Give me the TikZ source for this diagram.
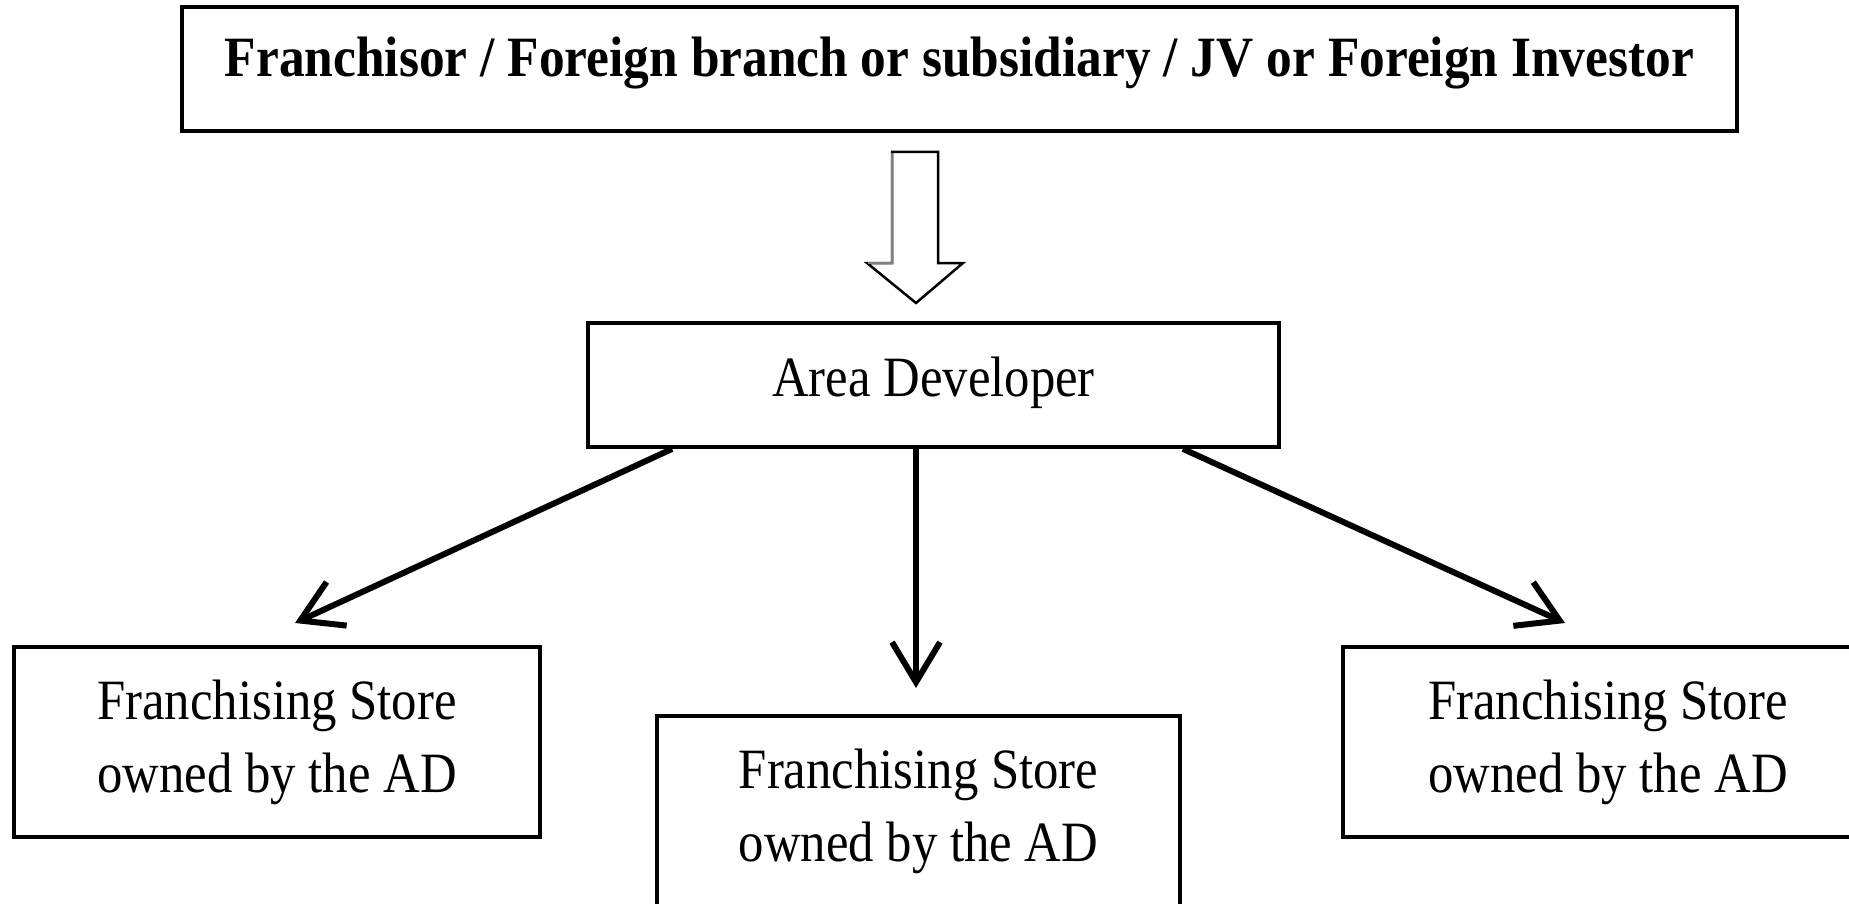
\documentclass[tikz,border=0pt]{standalone}
\usepackage{fontspec}
\setmainfont{Liberation Serif}
\newfontfamily\chartfont[FakeStretch=0.89]{Liberation Serif}
\newfontfamily\titlefont[FakeStretch=0.902]{Liberation Serif}
\usetikzlibrary{arrows.meta}
\begin{document}
\begin{tikzpicture}[x=1pt,y=-1pt,
  box/.style={draw=black,line width=3.8pt,fill=white,inner sep=0pt,align=center,
    font=\chartfont\fontsize{57}{73}\selectfont},
  titlebox/.style={box,font=\titlefont\bfseries\fontsize{57}{73}\selectfont},
  storebox/.style={box,minimum width=526pt,minimum height=190pt},
  conn/.style={line width=6pt,-{Straight Barb[length=40pt,width=48pt]}},
  blockarrow/.style={fill=white,draw=black,line width=2.5pt,line join=miter}]
\useasboundingbox (0,0) rectangle (1849,904);
\clip (0,0) rectangle (1849,904);
\fill[white] (0,0) rectangle (1849,904);

% boxes
\node[titlebox,minimum width=1555pt,minimum height=124pt,text depth=24pt] (top) at (959.5,69)
  {Franchisor / Foreign branch or subsidiary / JV or Foreign Investor};
\node[box,minimum width=691pt,minimum height=124pt,text depth=17pt] (ad) at (933.5,385) {Area Developer};
\node[storebox] (s1) at (277,742) {Franchising Store\\owned by the AD};
\node[storebox,minimum width=523pt] (s2) at (918.5,811) {Franchising Store\\owned by the AD};
\node[storebox,minimum width=530pt] (s3) at (1608,742) {Franchising Store\\owned by the AD};

% hollow block arrow from the top box to the area developer
\filldraw[blockarrow] (892,152) -- (938,152) -- (938,263) -- (963,263) -- (916,303)
  -- (867,263) -- (892,263) -- cycle;
\draw[gray,line width=2.5pt] (892,153) -- (892,263) -- (868,263);

% arrow ends above the stores
\coordinate (t1) at (295,623);
\coordinate (t2) at (916,688);
\coordinate (t3) at (1565,623);

\draw[conn] ([xshift=86pt]ad.south west) -- (t1);
\draw[conn] ([xshift=-17.5pt]ad.south) -- (t2);
\draw[conn] ([xshift=-98pt]ad.south east) -- (t3);
\end{tikzpicture}
\end{document}
